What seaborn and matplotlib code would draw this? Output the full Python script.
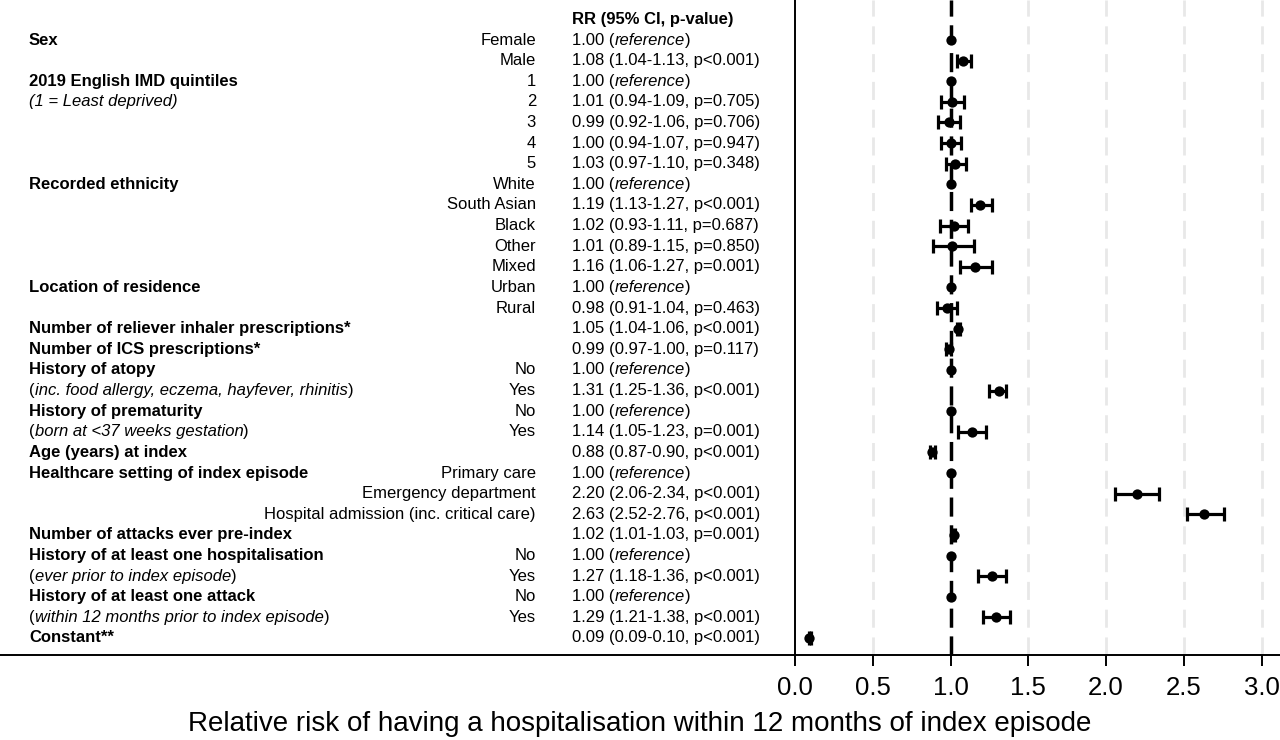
import numpy as np
import pandas as pd
import matplotlib
matplotlib.use("Agg")
import matplotlib.pyplot as plt
import matplotlib.transforms as mtransforms
import seaborn as sns

sns.set_theme(style="white")
plt.rcParams["font.family"] = ["Liberation Sans", "DejaVu Sans"]
plt.rcParams["text.color"] = "black"
plt.rcParams["axes.labelcolor"] = "black"

# ---- data -------------------------------------------------------------
levels = ["Female", "Male", "1", "2", "3", "4", "5", "White", "South Asian", "Black",
          "Other", "Mixed", "Urban", "Rural", "", "", "No", "Yes", "No", "Yes", "",
          "Primary care", "Emergency department", "Hospital admission (inc. critical care)",
          "", "No", "Yes", "No", "Yes", ""]
rr = [1.00, 1.08, 1.00, 1.01, 0.99, 1.00, 1.03, 1.00, 1.19, 1.02, 1.01, 1.16, 1.00, 0.98,
      1.05, 0.99, 1.00, 1.31, 1.00, 1.14, 0.88, 1.00, 2.20, 2.63, 1.02, 1.00, 1.27, 1.00,
      1.29, 0.09]
lo = [1.00, 1.04, 1.00, 0.94, 0.92, 0.94, 0.97, 1.00, 1.13, 0.93, 0.89, 1.06, 1.00, 0.91,
      1.04, 0.97, 1.00, 1.25, 1.00, 1.05, 0.87, 1.00, 2.06, 2.52, 1.01, 1.00, 1.18, 1.00,
      1.21, 0.09]
hi = [1.00, 1.13, 1.00, 1.09, 1.06, 1.07, 1.10, 1.00, 1.27, 1.11, 1.15, 1.27, 1.00, 1.04,
      1.06, 1.00, 1.00, 1.36, 1.00, 1.23, 0.90, 1.00, 2.34, 2.76, 1.03, 1.00, 1.36, 1.00,
      1.38, 0.10]
pvals = [None, "p<0.001", None, "p=0.705", "p=0.706", "p=0.947", "p=0.348", None,
         "p<0.001", "p=0.687", "p=0.850", "p=0.001", None, "p=0.463", "p<0.001", "p=0.117",
         None, "p<0.001", None, "p=0.001", "p<0.001", None, "p<0.001", "p<0.001", "p=0.001",
         None, "p<0.001", None, "p<0.001", "p<0.001"]

variables = ["Sex", "2019 English IMD quintiles", "Recorded ethnicity", "Location of residence",
             "Number of reliever inhaler prescriptions*", "Number of ICS prescriptions*",
             "History of atopy", "History of prematurity", "Age (years) at index",
             "Healthcare setting of index episode", "Number of attacks ever pre-index",
             "History of at least one hospitalisation", "History of at least one attack",
             "Constant**"]
variable_rows = [0, 2, 7, 12, 14, 15, 16, 18, 20, 21, 24, 25, 27, 29]
notes = ["1 = Least deprived", "inc. food allergy, eczema, hayfever, rhinitis",
         "born at <37 weeks gestation", "ever prior to index episode",
         "within 12 months prior to index episode"]
note_rows = [3, 17, 19, 26, 28]
note_paren_italic = [True, False, False, False, False]

xticks = [0.0, 0.5, 1.0, 1.5, 2.0, 2.5, 3.0]
xlabel = "Relative risk of having a hospitalisation within 12 months of index episode"
header = "RR (95% CI, p-value)"

df = pd.DataFrame({"row": np.arange(len(rr)), "rr": rr, "lo": lo, "hi": hi,
                   "p": pvals, "level": levels})
df["ref"] = df["p"].isna()

# ---- figure -----------------------------------------------------------
W, H = 1280, 740
fig = plt.figure(figsize=(W / 100, H / 100), dpi=100)
ax = fig.add_axes([0, 85 / H, 1, 655 / H])

px_per_unit = 155.5
x0_px = 795
ax.set_xlim(-x0_px / px_per_unit, (W - x0_px) / px_per_unit)
row_px, row0_px = 20.62, 40
ax.set_ylim((655 - row0_px) / row_px, -row0_px / row_px)

for s in ["top", "right", "left"]:
    ax.spines[s].set_visible(False)
ax.spines["bottom"].set_linewidth(1.4)
ax.spines["bottom"].set_color("black")
ax.set_yticks([])
ax.set_xticks(xticks)
ax.set_xticklabels([f"{t:.1f}" for t in xticks], fontsize=18.5)
ax.tick_params(axis="x", direction="out", length=8, width=1.4, pad=7,
               bottom=True, colors="black")

# light grid and reference lines
for t in xticks[1:]:
    ax.axvline(t, color="#e8e8e8", lw=2, ls=(0, (6.5, 3.5)), zorder=0)
ax.axvline(0, color="black", lw=1.4, zorder=1)
ax.axvline(1.0, color="black", lw=2.5, ls=(0, (5.5, 2.5)), zorder=2)

# CIs and points
est = df[~df["ref"]]
ax.errorbar(est["rr"], est["row"], xerr=[est["rr"] - est["lo"], est["hi"] - est["rr"]],
            fmt="none", ecolor="black", elinewidth=2.3, capsize=5, capthick=2.3, zorder=3)
sns.scatterplot(data=df, x="rr", y="row", color="black", s=55, edgecolor="black",
                linewidth=0, zorder=4, ax=ax, legend=False)
ax.set_xlabel(xlabel, fontsize=20, labelpad=8, color="black")
ax.set_ylabel("")

# ---- text table -------------------------------------------------------
trans = mtransforms.blended_transform_factory(ax.transAxes, ax.transData)
FS = 12


def rich(x, y, pieces):
    t = ax.text(x, y, pieces[0][0], transform=trans, style=pieces[0][1],
                va="center", ha="left", fontsize=FS, color="black")
    for s, st in pieces[1:]:
        t = ax.annotate(s, xy=(1, 0), xycoords=t, va="bottom", ha="left",
                        style=st, fontsize=FS, color="black")


x_var = 29 / W
x_lvl = 536 / W
x_rr = 572 / W

ax.text(x_rr, -1, header, transform=trans, fontsize=FS, fontweight="bold",
        va="center", ha="left")
for name, r in zip(variables, variable_rows):
    ax.text(x_var, r, name, transform=trans, fontsize=FS, fontweight="bold",
            va="center", ha="left")
for note, r, pi in zip(notes, note_rows, note_paren_italic):
    if pi:
        rich(x_var, r, [(f"({note})", "italic")])
    else:
        rich(x_var, r, [("(", "normal"), (note, "italic"), (")", "normal")])

for _, d in df.iterrows():
    if d["level"]:
        ax.text(x_lvl, d["row"], d["level"], transform=trans, fontsize=FS,
                va="center", ha="right")
    if d["ref"]:
        rich(x_rr, d["row"], [(f"{d['rr']:.2f} (", "normal"), ("reference", "italic"),
                              (")", "normal")])
    else:
        ax.text(x_rr, d["row"], f"{d['rr']:.2f} ({d['lo']:.2f}-{d['hi']:.2f}, {d['p']})",
                transform=trans, fontsize=FS, va="center", ha="left")

fig.savefig("out.png", dpi=100)
